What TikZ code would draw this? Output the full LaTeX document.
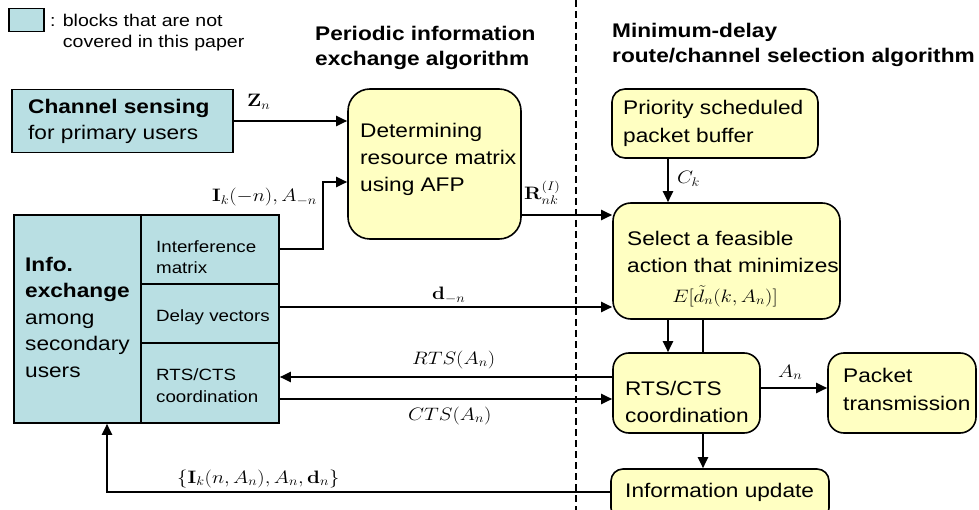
\documentclass[tikz,border=0pt]{standalone}
\usepackage[no-math]{fontspec}
\setmainfont{Liberation Sans}[FakeStretch=1.15]
\usepackage{graphicx}
\usetikzlibrary{arrows.meta}
\definecolor{tealfill}{RGB}{185,223,227}
\definecolor{yelfill}{RGB}{255,255,194}
\newcommand{\ml}[1]{\scalebox{1.2}[1.04]{$#1$}}
\tikzset{
  brd/.style={draw=black, line width=1.6pt},
  tealbox/.style={brd, fill=tealfill, inner sep=0pt},
  yelbox/.style={brd, fill=yelfill, inner sep=0pt},
  conn/.style={line width=2pt},
  arr/.style={conn, -{Triangle[length=11pt,width=10pt]}},
  sepline/.style={line width=1.6pt, dash pattern=on 7pt off 4pt},
  tx/.style={inner sep=0pt, align=left, anchor=north west},
  big/.style={font=\fontsize{19.7}{27}\selectfont},
  small/.style={font=\fontsize{16.3}{21.5}\selectfont},
  mathf/.style={inner sep=0pt, font=\fontsize{17.28}{20}\selectfont},
}
\begin{document}
\begin{tikzpicture}[x=1pt,y=-1pt]
\useasboundingbox (0,0) rectangle (979,510);
% separator
\coordinate (dtop) at (576,0);
\coordinate (dbot) at (576,510);
\draw[sepline] (dtop) -- (dbot);
% legend
\node[tealbox, minimum width=35pt, minimum height=23pt] (leg) at (26.5,20) {};
\node[tx, font=\fontsize{17}{21}\selectfont] (legt) at (50,13.6) {: blocks that are not\\\phantom{: }covered in this paper};
% headings
\node[tx, font=\bfseries\fontsize{19.7}{25}\selectfont] (h1) at (315,25.7) {Periodic information\\exchange algorithm};
\node[tx, font=\bfseries\fontsize{19.7}{25}\selectfont] (h2) at (612,22.7) {Minimum-delay\\route/channel selection algorithm};
% boxes
\node[tealbox, minimum width=221pt, minimum height=63pt] (cs) at (122.5,121) {};
\node[tx, font=\fontsize{19.7}{26}\selectfont] (cst) at (28,98.7) {\textbf{Channel sensing}\\for primary users};
\node[tealbox, minimum width=265pt, minimum height=208pt] (info) at (146.5,319) {};
\coordinate (dv1) at (141,215);
\coordinate (dv2) at (141,423);
\coordinate (dh1) at (279,284);
\coordinate (dh2) at (279,343);
\draw[brd] (dv1) -- (dv2);
\draw[brd] (dv1 |- dh1) -- (dh1);
\draw[brd] (dv1 |- dh2) -- (dh2);
\node[tx, font=\fontsize{19.7}{26.5}\selectfont] (infot) at (25,256.7) {\textbf{Info.}\\\textbf{exchange}\\among\\secondary\\users};
\node[tx, small] (intt) at (156,240.2) {Interference\\matrix};
\node[inner sep=0pt, small, anchor=base west] (delt) at (156,322) {Delay vectors};
\node[tx, small, font=\fontsize{16.3}{22}\selectfont] (rtst) at (156,368.2) {RTS/CTS\\coordination};
\node[yelbox, rounded corners=22pt, minimum width=173pt, minimum height=150pt] (afp) at (434.5,164) {};
\node[tx, big] (afpt) at (360,122.7) {Determining\\resource matrix\\using AFP};
\node[yelbox, rounded corners=13pt, minimum width=206pt, minimum height=69pt] (pri) at (715,123.5) {};
\node[tx, font=\fontsize{19.7}{28}\selectfont] (prit) at (623,100) {Priority scheduled\\packet buffer};
\node[yelbox, rounded corners=18pt, minimum width=227pt, minimum height=116pt] (sel) at (726.5,261) {};
\node[tx, big] (selt) at (627,230.7) {Select a feasible\\action that minimizes};
\node[mathf, anchor=base] (selE) at (725,302) {\ml{E[\tilde d_n(k,A_n)]}};
\node[yelbox, rounded corners=16pt, minimum width=147pt, minimum height=80pt] (rts) at (686.5,393) {};
\node[tx, big] (rtsb) at (625,380.7) {RTS/CTS\\coordination};
\node[yelbox, rounded corners=16pt, minimum width=148pt, minimum height=80pt] (pkt) at (902,393) {};
\node[tx, font=\fontsize{19.7}{28}\selectfont] (pktt) at (843,367.7) {Packet\\transmission};
\node[yelbox, rounded corners=12pt, minimum width=218pt, minimum height=51pt] (upd) at (720,494.5) {};
\node[inner sep=0pt, big, anchor=base west] (updt) at (625,497) {Information update};
% coordinates for connectors
\coordinate (ia) at (279,249);
\coordinate (ib) at (323,182);
\coordinate (yR) at (0,215);
\coordinate (xC) at (668,0);
\coordinate (xB) at (703,0);
\coordinate (yd) at (0,307);
\coordinate (yRTS) at (0,377);
\coordinate (yCTS) at (0,399);
\coordinate (yA) at (0,388);
\coordinate (yF) at (0,492);
\coordinate (xF) at (107,0);
% connectors
\draw[arr] (cs.east) -- (cs.east -| afp.west);
\draw[arr] (ia) -| (ib) -- (afp.west |- ib);
\draw[arr] (afp.east |- yR) -- (sel.west |- yR);
\draw[arr] (pri.south -| xC) -- (sel.north -| xC);
\draw[arr] (info.east |- yd) -- (sel.west |- yd);
\draw[arr] (sel.south -| xC) -- (rts.north -| xC);
\draw[conn] (sel.south -| xB) -- (rts.north -| xB);
\draw[arr] (rts.south -| xB) -- (upd.north -| xB);
\draw[arr] (rts.west |- yRTS) -- (info.east |- yRTS);
\draw[arr] (info.east |- yCTS) -- (rts.west |- yCTS);
\draw[arr] (rts.east |- yA) -- (pkt.west |- yA);
\draw[arr] (upd.west |- yF) -| (info.south -| xF);
% labels
\node[mathf, anchor=base west] (lZ) at (247,107) {\ml{\mathbf{Z}_n}};
\node[mathf, anchor=base east] (lI) at (317,202) {\ml{\mathbf{I}_k(-n),A_{-n}}};
\node[mathf, anchor=base west] (lR) at (524,200) {\ml{\mathbf{R}_{nk}^{(I)}}};
\node[mathf, anchor=base west] (lC) at (677,184) {\ml{C_k}};
\node[mathf, anchor=base west] (ld) at (432,300) {\ml{\mathbf{d}_{-n}}};
\node[mathf, anchor=base west] (lRTS) at (412,364) {\ml{RTS(A_n)}};
\node[mathf, anchor=base west] (lCTS) at (408,420) {\ml{CTS(A_n)}};
\node[mathf, anchor=base west] (lA) at (778,377) {\ml{A_n}};
\node[mathf, anchor=base west] (lF) at (177,483) {\ml{\{\mathbf{I}_k(n,A_n),A_n,\mathbf{d}_n\}}};
\end{tikzpicture}
\end{document}
